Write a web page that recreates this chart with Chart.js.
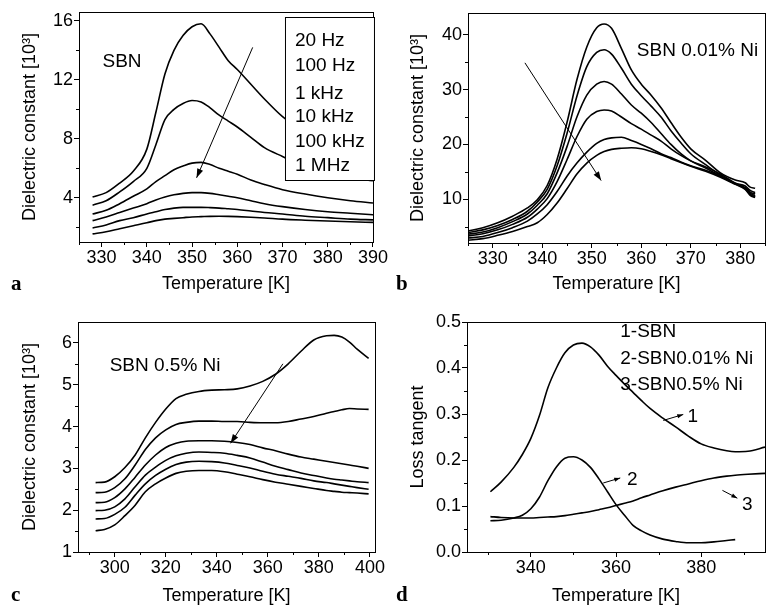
<!DOCTYPE html>
<html>
<head>
<meta charset="utf-8">
<script src="https://cdn.jsdelivr.net/npm/chart.js@4.4.1/dist/chart.umd.min.js"></script>
<style>
  body { margin: 0; background: #fff; width: 775px; height: 613px; overflow: hidden; position: relative; }
  canvas { position: absolute; }
</style>
</head>
<body>
<canvas id="pa" width="388" height="306" style="left:0;top:0"></canvas>
<canvas id="pb" width="387" height="306" style="left:388px;top:0"></canvas>
<canvas id="pc" width="388" height="307" style="left:0;top:306px"></canvas>
<canvas id="pd" width="387" height="307" style="left:388px;top:306px"></canvas>
<script>
// frequencies (same order in a, b, c: top curve first)
var freqLabels = ['20 Hz', '100 Hz', '1 kHz', '10 kHz', '100 kHz', '1 MHz'];

// panel a - SBN
var tempA = [328, 331, 334, 337, 340, 342, 344, 346, 348, 350, 352, 354, 356, 358, 360, 363, 366, 370, 375, 380, 385, 390];
var a20Hz   = [4.05, 4.35, 5.0, 5.8, 7.3, 9.8, 12.4, 14.0, 15.0, 15.6, 15.8, 15.1, 14.2, 13.3, 12.7, 11.7, 10.7, 9.5, 8.4, 7.7, 7.2, 6.9];
var a100Hz  = [3.5, 3.8, 4.4, 5.1, 6.0, 7.6, 9.3, 10.0, 10.4, 10.6, 10.5, 10.1, 9.6, 9.2, 8.8, 8.1, 7.4, 6.8, 6.1, 5.7, 5.4, 5.15];
var a1kHz   = [2.9, 3.15, 3.6, 4.1, 4.6, 5.1, 5.5, 5.9, 6.15, 6.35, 6.4, 6.25, 6.0, 5.8, 5.6, 5.2, 4.9, 4.55, 4.25, 4.0, 3.8, 3.65];
var a10kHz  = [2.45, 2.7, 3.0, 3.3, 3.6, 3.85, 4.05, 4.2, 4.3, 4.35, 4.35, 4.3, 4.2, 4.1, 4.0, 3.8, 3.6, 3.4, 3.2, 3.05, 2.95, 2.85];
var a100kHz = [1.95, 2.15, 2.45, 2.65, 2.9, 3.05, 3.2, 3.3, 3.35, 3.35, 3.35, 3.33, 3.3, 3.25, 3.2, 3.1, 3.0, 2.9, 2.75, 2.65, 2.55, 2.5];
var a1MHz   = [1.55, 1.7, 1.9, 2.1, 2.3, 2.45, 2.55, 2.6, 2.65, 2.7, 2.72, 2.74, 2.75, 2.74, 2.72, 2.68, 2.63, 2.55, 2.48, 2.42, 2.37, 2.33];

// panel b - SBN 0.01% Ni
var tempB = [325, 328, 331, 334, 337, 339, 341, 343, 345, 347, 349, 351, 352.5, 354, 356, 358, 360, 362, 364, 366, 368, 370, 373, 376, 379, 381, 382, 383];
var b20Hz   = [4.2, 4.8, 5.7, 6.9, 8.4, 9.9, 12.5, 17.3, 24.0, 31.8, 37.8, 41.3, 42.0, 41.2, 37.5, 33.6, 31.0, 29.0, 26.7, 24.0, 21.4, 19.2, 17.1, 14.8, 13.5, 13.0, 12.2, 12.0];
var b100Hz  = [3.9, 4.4, 5.2, 6.3, 7.8, 9.5, 11.8, 16.1, 22.0, 28.8, 34.2, 36.8, 37.3, 36.5, 33.9, 31.0, 28.9, 27.0, 25.0, 22.5, 20.3, 18.3, 16.3, 14.4, 12.9, 12.4, 11.6, 11.2];
var b1kHz   = [3.6, 4.0, 4.8, 5.9, 7.3, 8.9, 11.0, 14.8, 19.6, 25.0, 29.0, 31.0, 31.5, 31.0, 29.2, 27.2, 25.7, 24.0, 22.0, 20.0, 18.3, 17.0, 15.7, 14.2, 12.8, 12.1, 11.3, 10.9];
var b10kHz  = [3.3, 3.7, 4.4, 5.4, 6.7, 8.2, 10.1, 13.2, 17.2, 21.4, 24.6, 26.0, 26.3, 26.1, 25.0, 23.8, 22.8, 21.7, 20.6, 19.2, 18.0, 17.0, 15.9, 14.6, 12.9, 12.0, 11.1, 10.6];
var b100kHz = [2.9, 3.2, 3.9, 4.8, 6.0, 7.3, 9.0, 11.4, 14.2, 16.6, 18.6, 20.2, 20.9, 21.2, 21.3, 20.7, 20.0, 19.2, 18.3, 17.6, 16.8, 16.1, 15.3, 14.2, 12.8, 11.9, 10.9, 10.4];
var b1MHz   = [2.5, 2.8, 3.4, 4.1, 5.0, 5.7, 7.2, 9.3, 11.9, 14.6, 16.6, 18.0, 18.7, 19.1, 19.3, 19.4, 19.2, 18.7, 18.1, 17.4, 16.7, 16.0, 15.1, 14.0, 12.7, 11.8, 10.7, 10.3];

// panel c - SBN 0.5% Ni
var tempC = [292.5, 296, 300, 304, 308, 312, 316, 320, 324, 328, 333, 338, 343, 348, 353, 358, 363, 368, 373, 378, 383, 386, 389, 392, 395, 399.5];
var c20Hz   = [2.66, 2.67, 2.8, 3.02, 3.32, 3.73, 4.1, 4.42, 4.67, 4.77, 4.84, 4.87, 4.88, 4.9, 4.97, 5.08, 5.25, 5.5, 5.8, 6.07, 6.17, 6.18, 6.14, 6.02, 5.85, 5.63];
var c100Hz  = [2.42, 2.43, 2.54, 2.75, 3.08, 3.45, 3.73, 3.92, 4.05, 4.1, 4.13, 4.13, 4.12, 4.12, 4.1, 4.09, 4.09, 4.12, 4.18, 4.24, 4.32, 4.36, 4.4, 4.43, 4.42, 4.41];
var c1kHz   = [2.18, 2.19, 2.3, 2.51, 2.79, 3.08, 3.32, 3.5, 3.6, 3.65, 3.66, 3.66, 3.65, 3.62, 3.57, 3.49, 3.42, 3.34, 3.27, 3.22, 3.17, 3.14, 3.11, 3.08, 3.05, 3.0];
var c10kHz  = [1.99, 2.0, 2.08, 2.27, 2.56, 2.84, 3.03, 3.19, 3.3, 3.36, 3.39, 3.38, 3.36, 3.31, 3.25, 3.15, 3.05, 2.97, 2.89, 2.83, 2.77, 2.74, 2.72, 2.7, 2.68, 2.66];
var c100kHz = [1.79, 1.8, 1.9, 2.07, 2.36, 2.63, 2.83, 2.98, 3.09, 3.15, 3.17, 3.16, 3.13, 3.07, 3.01, 2.93, 2.86, 2.81, 2.76, 2.7, 2.66, 2.63, 2.6, 2.57, 2.54, 2.5];
var c1MHz   = [1.51, 1.54, 1.65, 1.87, 2.12, 2.44, 2.63, 2.77, 2.88, 2.93, 2.95, 2.95, 2.92, 2.86, 2.8, 2.73, 2.67, 2.62, 2.57, 2.52, 2.47, 2.45, 2.43, 2.42, 2.41, 2.39];

// panel d - loss tangent
var tempD = [330.5, 333, 336, 338, 340, 342, 344, 346, 348, 350, 352, 354, 356, 358, 360, 362, 364, 366, 368, 371, 374, 377, 380, 383, 386, 388, 391, 395];
var lossSBN   = [0.131, 0.152, 0.184, 0.212, 0.247, 0.296, 0.357, 0.4, 0.433, 0.45, 0.454, 0.446, 0.428, 0.404, 0.384, 0.365, 0.347, 0.329, 0.312, 0.291, 0.272, 0.252, 0.235, 0.226, 0.22, 0.218, 0.219, 0.228];
var lossNi001 = [0.068, 0.069, 0.074, 0.08, 0.094, 0.119, 0.155, 0.185, 0.204, 0.207, 0.2, 0.184, 0.159, 0.131, 0.103, 0.08, 0.058, 0.046, 0.037, 0.028, 0.023, 0.02, 0.02, 0.022, 0.025, 0.027, null, null];
var lossNi05  = [0.077, 0.075, 0.074, 0.074, 0.074, 0.075, 0.076, 0.077, 0.079, 0.082, 0.085, 0.088, 0.092, 0.096, 0.101, 0.106, 0.111, 0.118, 0.124, 0.133, 0.141, 0.148, 0.155, 0.161, 0.165, 0.167, 0.169, 0.171];
var lossLabels = ['1-SBN', '2-SBN0.01% Ni', '3-SBN0.5% Ni'];

// tick labels (major) and minor tick positions
var ticksAx = [330, 340, 350, 360, 370, 380, 390], ticksAy = [4, 8, 12, 16];
var minorAx = [325, 335, 345, 355, 365, 375, 385], minorAy = [2, 6, 10, 14];
var ticksBx = [330, 340, 350, 360, 370, 380], ticksBy = [10, 20, 30, 40];
var minorBx = [325, 335, 345, 355, 365, 375, 385], minorBy = [5, 15, 25, 35];
var ticksCx = [300, 320, 340, 360, 380, 400], ticksCy = [1, 2, 3, 4, 5, 6];
var minorCx = [290, 310, 330, 350, 370, 390], minorCy = [1.5, 2.5, 3.5, 4.5, 5.5];
var ticksDx = [340, 360, 380], ticksDy = [0, 0.1, 0.2, 0.3, 0.4, 0.5];
var minorDx = [330, 350, 370, 390], minorDy = [0.05, 0.15, 0.25, 0.35, 0.45];

Chart.defaults.font.family = '"Liberation Sans", Arial, sans-serif';
Chart.defaults.font.size = 18;
Chart.defaults.color = '#000';

function drawArrow(ctx, x0, y0, x1, y1, head) {
  ctx.beginPath();
  ctx.moveTo(x0, y0);
  ctx.lineTo(x1, y1);
  ctx.stroke();
  var ang = Math.atan2(y1 - y0, x1 - x0);
  ctx.beginPath();
  ctx.moveTo(x1, y1);
  ctx.lineTo(x1 - head * Math.cos(ang) + head * 0.35 * Math.sin(ang), y1 - head * Math.sin(ang) - head * 0.35 * Math.cos(ang));
  ctx.lineTo(x1 - head * Math.cos(ang) - head * 0.35 * Math.sin(ang), y1 - head * Math.sin(ang) + head * 0.35 * Math.cos(ang));
  ctx.closePath();
  ctx.fill();
}

// frame, minor ticks, notes, arrows, panel letter
var decor = {
  id: 'decor',
  afterDraw: function (chart, args, o) {
    var ctx = chart.ctx, ca = chart.chartArea, x = chart.scales.x, y = chart.scales.y;
    ctx.save();
    ctx.strokeStyle = '#000';
    ctx.fillStyle = '#000';
    ctx.lineWidth = 1;
    ctx.strokeRect(Math.round(ca.left) + 0.5, Math.round(ca.top) + 0.5, Math.round(ca.right - ca.left), Math.round(ca.bottom - ca.top));
    ctx.beginPath();
    o.minorX.forEach(function (v) {
      var px = Math.round(x.getPixelForValue(v)) + 0.5;
      ctx.moveTo(px, ca.bottom); ctx.lineTo(px, ca.bottom + 3);
    });
    o.minorY.forEach(function (v) {
      var py = Math.round(y.getPixelForValue(v)) + 0.5;
      ctx.moveTo(ca.left, py); ctx.lineTo(ca.left - 3, py);
    });
    ctx.stroke();

    ctx.font = '19px "Liberation Sans", Arial, sans-serif';
    ctx.textBaseline = 'middle';
    ctx.textAlign = 'left';
    (o.notes || []).forEach(function (n) {
      ctx.fillText(n.text, x.getPixelForValue(n.at[0]), y.getPixelForValue(n.at[1]));
    });
    (o.arrows || []).forEach(function (a) {
      drawArrow(ctx, x.getPixelForValue(a[0]), y.getPixelForValue(a[1]), x.getPixelForValue(a[2]), y.getPixelForValue(a[3]), a[4]);
    });

    if (o.box) {
      var bx = ca.right - 88, by = ca.top + 5;
      ctx.fillStyle = '#fff';
      ctx.fillRect(bx, by, 89, 163);
      ctx.strokeRect(bx + 0.5, by + 0.5, 89, 163);
      ctx.fillStyle = '#000';
      var rows = [24, 49, 77, 100, 125, 149];
      chart.data.datasets.forEach(function (ds, i) {
        ctx.fillText(ds.label, bx + 10, by + rows[i]);
      });
    }

    ctx.font = 'bold 21px "Liberation Serif", "Times New Roman", serif';
    ctx.fillText(o.letter, o.letterAt[0], o.letterAt[1]);
    ctx.restore();
  }
};

function series(temps, vals, label) {
  return {
    label: label,
    data: temps.map(function (t, i) { return { x: t, y: vals[i] }; }),
    borderColor: '#000',
    borderWidth: 1.6,
    pointRadius: 0,
    fill: false,
    cubicInterpolationMode: 'monotone',
    spanGaps: false
  };
}

function makePanel(id, cfg) {
  return new Chart(document.getElementById(id), {
    type: 'line',
    data: { datasets: cfg.datasets },
    plugins: [decor],
    options: {
      responsive: false,
      animation: false,
      events: [],
      layout: { padding: { top: cfg.padTop, right: cfg.padRight, left: 0, bottom: 0 } },
      plugins: {
        legend: { display: false },
        tooltip: { enabled: false },
        decor: cfg.decor
      },
      scales: {
        x: {
          type: 'linear', min: cfg.xRange[0], max: cfg.xRange[1],
          afterBuildTicks: function (s) { s.ticks = cfg.xTicks.map(function (v) { return { value: v }; }); },
          afterFit: function (s) { s.height = cfg.xHeight; },
          ticks: { padding: 0, maxRotation: 0, autoSkip: false, callback: function (v) { return String(v); } },
          grid: { drawOnChartArea: false, drawTicks: true, tickLength: 5, color: '#000' },
          border: { display: false },
          title: { display: true, text: 'Temperature [K]', padding: { top: 0, bottom: cfg.xTitlePad } }
        },
        y: {
          type: 'linear', min: cfg.yRange[0], max: cfg.yRange[1],
          afterBuildTicks: function (s) { s.ticks = cfg.yTicks.map(function (v) { return { value: v }; }); },
          afterFit: function (s) { s.width = cfg.yWidth; },
          ticks: { padding: 1, autoSkip: false, callback: cfg.yFormat || function (v) { return String(v); } },
          grid: { drawOnChartArea: false, drawTicks: true, tickLength: 5, color: '#000' },
          border: { display: false },
          title: { display: true, text: cfg.yTitle, padding: { top: 19, bottom: 0 } }
        }
      }
    }
  });
}

var dielTitle = 'Dielectric constant [10\u00B3]';

makePanel('pa', {
  datasets: [a20Hz, a100Hz, a1kHz, a10kHz, a100kHz, a1MHz].map(function (v, i) { return series(tempA, v, freqLabels[i]); }),
  padTop: 12, padRight: 13, xHeight: 64, yWidth: 79, xTitlePad: 11,
  xRange: [325, 390], yRange: [1, 16.6], xTicks: ticksAx, yTicks: ticksAy,
  yTitle: dielTitle,
  decor: {
    minorX: minorAx, minorY: minorAy, box: true, letter: 'a', letterAt: [11, 285],
    notes: [{ text: 'SBN', at: [330.2, 13.2] }],
    arrows: [[363.4, 14.2, 351, 5.35, 9]]
  }
});

makePanel('pb', {
  datasets: [b20Hz, b100Hz, b1kHz, b10kHz, b100kHz, b1MHz].map(function (v, i) { return series(tempB, v, freqLabels[i]); }),
  padTop: 13, padRight: 10, xHeight: 63, yWidth: 80, xTitlePad: 11,
  xRange: [325, 385], yRange: [2, 44], xTicks: ticksBx, yTicks: ticksBy,
  yTitle: dielTitle,
  decor: {
    minorX: minorBx, minorY: minorBy, letter: 'b', letterAt: [8, 285],
    notes: [{ text: 'SBN 0.01% Ni', at: [359.1, 37.1] }],
    arrows: [[336.5, 34.9, 351.9, 13.4, 9]]
  }
});

makePanel('pc', {
  datasets: [c20Hz, c100Hz, c1kHz, c10kHz, c100kHz, c1MHz].map(function (v, i) { return series(tempC, v, freqLabels[i]); }),
  padTop: 16, padRight: 13, xHeight: 61, yWidth: 78, xTitlePad: 6,
  xRange: [285.6, 402], yRange: [1, 6.5], xTicks: ticksCx, yTicks: ticksCy,
  yTitle: dielTitle,
  decor: {
    minorX: minorCx, minorY: minorCy, letter: 'c', letterAt: [11, 290],
    notes: [{ text: 'SBN 0.5% Ni', at: [298, 5.45] }],
    arrows: [[365.9, 5.5, 345.4, 3.6, 9]]
  }
});

makePanel('pd', {
  datasets: [lossSBN, lossNi001, lossNi05].map(function (v, i) { return series(tempD, v, lossLabels[i]); }),
  padTop: 16, padRight: 10, xHeight: 61, yWidth: 79, xTitlePad: 6,
  xRange: [325, 395], yRange: [0, 0.5], xTicks: ticksDx, yTicks: ticksDy,
  yTitle: 'Loss tangent',
  yFormat: function (v) { return v.toFixed(1); },
  decor: {
    minorX: minorDx, minorY: minorDy, letter: 'd', letterAt: [8, 290],
    notes: [
      { text: lossLabels[0], at: [361, 0.479] },
      { text: lossLabels[1], at: [361, 0.421] },
      { text: lossLabels[2], at: [361, 0.364] },
      { text: '1', at: [376.8, 0.295] },
      { text: '2', at: [362.6, 0.156] },
      { text: '3', at: [389.6, 0.103] }
    ],
    arrows: [
      [371.1, 0.286, 375.8, 0.299, 6],
      [357, 0.150, 361, 0.161, 6],
      [385, 0.134, 388.5, 0.117, 6]
    ]
  }
});
</script>
</body>
</html>
